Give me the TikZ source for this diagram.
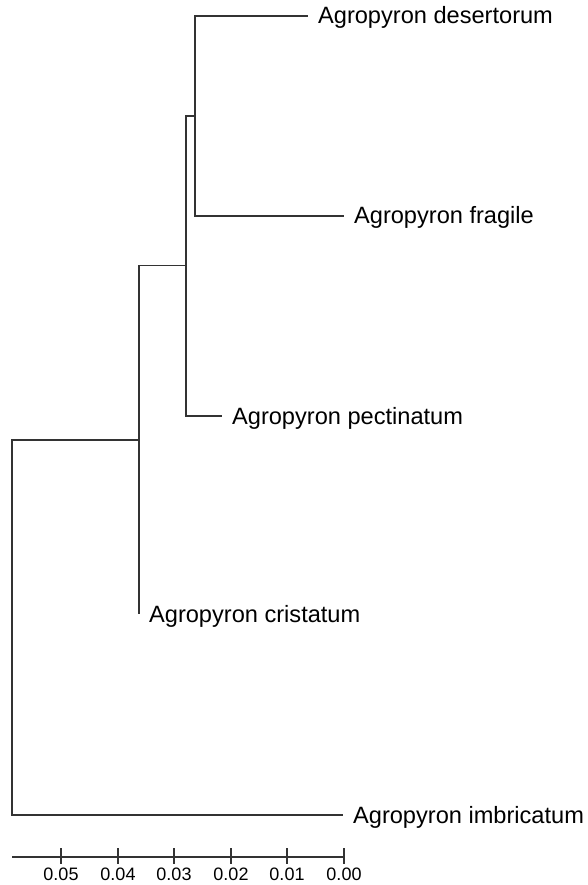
\documentclass[tikz,border=0pt]{standalone}
\usepackage{fontspec}
\setmainfont{Liberation Sans}

\begin{document}
\begin{tikzpicture}[x=1pt, y=-1pt, line width=1.3pt,
  branch/.style={draw=black!80},
  taxon/.style={anchor=base west, inner sep=0pt, xshift=9.5pt, yshift=-8pt,
    font=\fontsize{23.6}{27}\selectfont},
  ticklabel/.style={anchor=base, inner sep=0pt, font=\fontsize{18}{21}\selectfont}]
  \useasboundingbox (0,0) rectangle (587,885);

  % Inner nodes
  \coordinate (n1) at (195,116);
  \coordinate (n2) at (186,265.5);
  \coordinate (n3) at (139,440);
  \coordinate (n4) at (12,627.5);

  % Leaf ends
  \coordinate (des) at (308,16);
  \coordinate (fra) at (344,216);
  \coordinate (pec) at (222,416);
  \coordinate (cri) at (139,614);
  \coordinate (imb) at (343,815);

  % Branches
  \draw[branch] (n1) |- (des);
  \draw[branch] (n1) |- (fra);
  \draw[branch] (n2) |- (n1);
  \draw[branch] (n2) |- (pec);
  \draw[branch] (n3) |- (n2);
  \draw[branch] (n3) |- (cri);
  \draw[branch] (n4) |- (n3);
  \draw[branch] (n4) |- (imb);

  % Taxa
  \node[taxon] (ldes) at (des) {Agropyron desertorum};
  \node[taxon] (lfra) at (fra) {Agropyron fragile};
  \node[taxon] (lpec) at (pec) {Agropyron pectinatum};
  \node[taxon] (lcri) at (cri) {Agropyron cristatum};
  \node[taxon] (limb) at (imb) {Agropyron imbricatum};

  % Scale axis
  \coordinate (axl) at (12,857);
  \coordinate (axr) at (344,857);
  \draw[branch] (axl) -- (axr);
  \foreach \v/\x in {0.05/61, 0.04/118, 0.03/174, 0.02/231, 0.01/287, 0.00/344} {
    \draw[branch] (\x,848) -- (\x,864);
    \node[ticklabel] (tick\x) at (\x,880.5) {\v};
  }
\end{tikzpicture}
\end{document}
